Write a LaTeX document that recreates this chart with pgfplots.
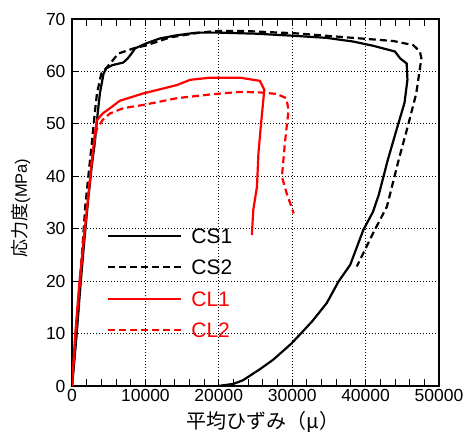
\documentclass[border=0pt]{standalone}
\usepackage{fontspec}
\setmainfont{Liberation Sans}
\newfontfamily\cjk{Noto Sans CJK JP}
\usepackage{pgfplots}
\pgfplotsset{compat=1.18}
\begin{document}
\begin{tikzpicture}
\begin{axis}[
  scale only axis, width=367pt, height=367pt,
  xmin=0, xmax=50000, ymin=0, ymax=70,
  xtick={0,10000,20000,30000,40000,50000},
  ytick={0,10,20,30,40,50,60,70},
  minor x tick num=4,
  scaled x ticks=false,
  /pgf/number format/1000 sep={},
  /pgf/number format/assume math mode=true,
  tick label style={font=\fontsize{17.5}{20}\selectfont},
  yticklabel style={xshift=-3pt},
  grid=major,
  major grid style={black, line width=0.8pt, dash pattern=on 1pt off 2pt},
  axis line style={black, line width=2pt},
  tick style={black, line width=0.9pt},
  major tick length=7pt, minor tick length=7pt,
  tick align=inside, xtick pos=both, ytick pos=left,
  xlabel={\cjk\fontsize{20}{22}\selectfont 平均ひずみ（μ）},
  xlabel style={at={(axis description cs:0.52,-0.098)}, anchor=center},
  ylabel={\cjk\fontsize{18}{20}\selectfont 応力度{\normalfont\fontsize{16.5}{18}\selectfont(MPa)}},
  ylabel style={at={(axis description cs:-0.139,0.485)}, anchor=center},
  legend style={draw=none, fill=none, at={(axis description cs:0.0954,0.43)}, anchor=north west,
    inner sep=0pt, row sep=16.5pt, font=\fontsize{21}{24}\selectfont,
    /tikz/every odd column/.style={column sep=9pt},
    nodes={inner sep=0pt, text height=15pt, text depth=0pt, anchor=west}},
  legend cell align=left,
  legend image code/.code={\draw[#1] (0pt,0pt) -- (73pt,0pt);},
]
\addplot[black, line width=2.2pt] coordinates {
(0,0) (640,10) (1200,20) (1700,28) (2200,35.5) (2700,42) (3100,46.3) (3500,52) (3800,55.8) (4300,59.6) (4700,60.6) (5500,61.2) (7000,61.7) (7600,62.5) (8100,63.4) (8600,64.4) (10200,65.4) (12000,66.3) (14300,66.9) (17000,67.4) (20000,67.4) (25000,67.2) (30200,66.8) (34700,66.4) (38300,65.7) (41000,64.9) (44000,63.8) (44700,62.5) (45600,61.5) (45700,58.4) (45300,54) (44200,48.8) (43000,43) (41800,36.5) (41000,33.2) (39700,29.8) (37900,23.1) (36300,19.9) (34700,15.8) (32700,12.3) (29900,8.1) (27400,5.0) (25600,3.2) (23300,1.1) (22000,0.4) (19900,0)
};
\addlegendentry{CS1}
\addplot[black, line width=2.2pt, dash pattern=on 7pt off 4pt] coordinates {
(0,0) (600,10) (1100,20) (1500,28) (1800,34.2) (2300,41) (2700,46.3) (3100,52) (3400,55.8) (4000,59.6) (5200,61.5) (6300,63.4) (8400,64.4) (10200,65.0) (13400,66.5) (17400,67.4) (19700,67.7) (23800,67.7) (28300,67.4) (30200,67.3) (34700,66.8) (39200,66.3) (43800,65.8) (46500,65.0) (47400,63.8) (47600,62.5) (46900,55.8) (45800,49.8) (44500,43.1) (42900,34.2) (41000,29.1) (38800,22.8)
};
\addlegendentry{CS2}
\addplot[red, line width=2.2pt] coordinates {
(0,0) (450,10) (1000,19.6) (1600,28) (2200,36) (2700,43) (3100,48) (3400,50.7) (4200,52) (5200,53) (6500,54.4) (9700,55.8) (14300,57.4) (16100,58.4) (18800,58.8) (22900,58.8) (25600,58.2) (26200,56.5) (25800,50.7) (25400,44.4) (25200,38) (24700,33.6) (24500,28.8)
};
\addlegendentry{\textcolor{red}{CL1}}
\addplot[red, line width=2.2pt, dash pattern=on 7pt off 4pt] coordinates {
(0,0) (500,10) (1100,20) (1700,30) (2300,38) (2800,44) (3100,47) (3400,49.1) (4200,50.8) (5200,52.0) (7000,53) (9700,53.6) (14300,54.9) (18800,55.6) (22900,56.1) (25600,56) (27900,55.7) (29200,54.9) (29500,52.6) (29000,46.3) (28600,39.9) (29300,36.5) (29900,34.2) (30200,32.9)
};
\addlegendentry{\textcolor{red}{CL2}}
\end{axis}
\pgfresetboundingbox
\path[use as bounding box] ([xshift=-72pt,yshift=-48pt]current axis.south west) rectangle ([xshift=32pt,yshift=19pt]current axis.north east);
\end{tikzpicture}
\end{document}
